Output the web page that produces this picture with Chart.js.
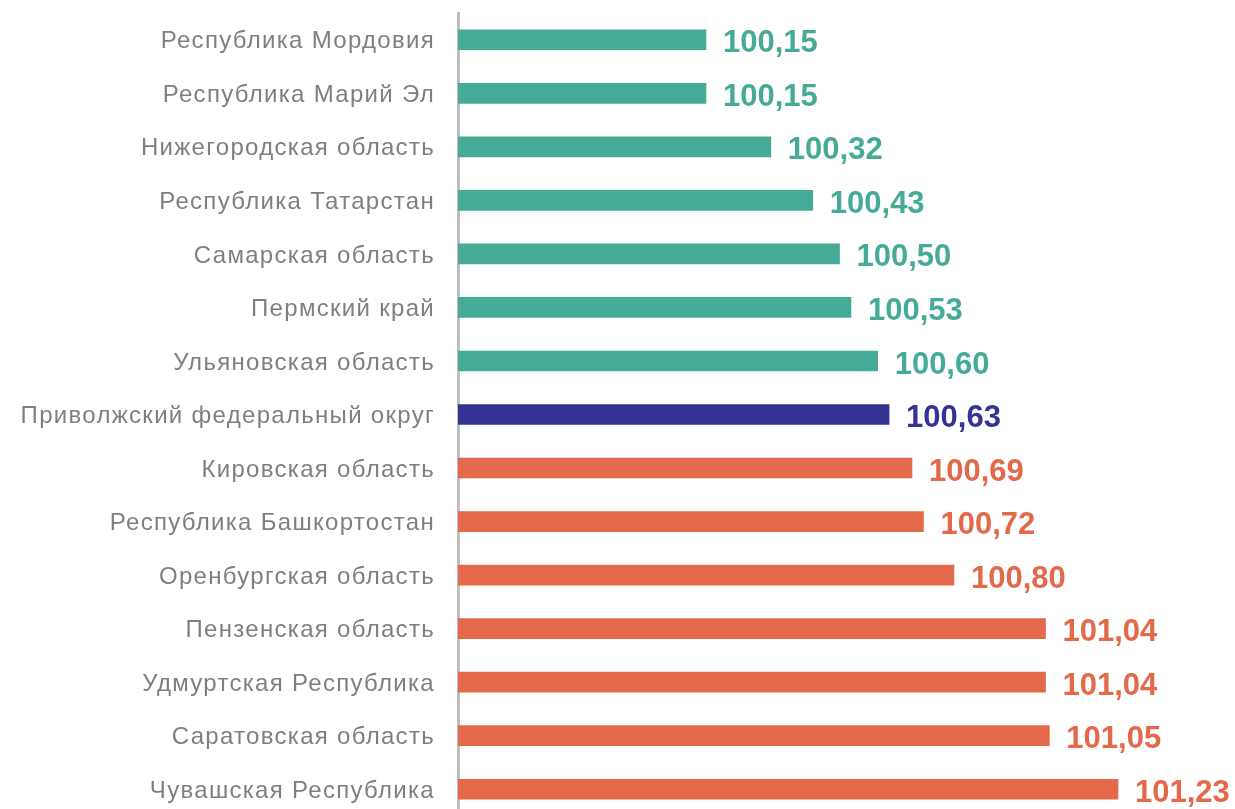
<!DOCTYPE html>
<html>
<head>
<meta charset="utf-8">
<script src="https://cdn.jsdelivr.net/npm/chart.js@4"></script>
<style>
html, body { margin: 0; padding: 0; background: #fff; overflow: hidden; }
</style>
</head>
<body>
<canvas id="chart" width="1235" height="816"></canvas>
<script>
var regions = [
    "Республика Мордовия",
    "Республика Марий Эл",
    "Нижегородская область",
    "Республика Татарстан",
    "Самарская область",
    "Пермский край",
    "Ульяновская область",
    "Приволжский федеральный округ",
    "Кировская область",
    "Республика Башкортостан",
    "Оренбургская область",
    "Пензенская область",
    "Удмуртская Республика",
    "Саратовская область",
    "Чувашская Республика"
];
var values = [100.15, 100.15, 100.32, 100.43, 100.50, 100.53, 100.60, 100.63,
              100.69, 100.72, 100.80, 101.04, 101.04, 101.05, 101.23];
var district = "Приволжский федеральный округ";

var districtValue = values[regions.indexOf(district)];
var fontFamily = "Arial, 'Liberation Sans', sans-serif";

function barColor(i){
    if (regions[i] == district) return "#353494";
    if (values[i] < districtValue) return "#45AB97";
    return "#E4684A";
}
var colors = values.map(function(v, i){ return barColor(i); });

// разрядка для подписей регионов, как в исходнике
var spacing = {
    id: "spacing",
    beforeDraw: function(chart){ chart.ctx.letterSpacing = "1.3px"; }
};

// подписи значений справа от столбцов
var valueLabels = {
    id: "valueLabels",
    afterDatasetsDraw: function(chart){
        var ctx = chart.ctx;
        var meta = chart.getDatasetMeta(0);
        ctx.save();
        ctx.letterSpacing = "0px";
        ctx.font = "bold 31px " + fontFamily;
        ctx.textBaseline = "middle";
        ctx.textAlign = "left";
        meta.data.forEach(function(bar, i){
            ctx.fillStyle = colors[i];
            ctx.fillText(values[i].toFixed(2).replace(".", ","), bar.x + 17, bar.y + 4);
        });
        ctx.restore();
    }
};

new Chart(document.getElementById("chart"), {
    type: "bar",
    data: {
        labels: regions,
        datasets: [{
            data: values,
            backgroundColor: colors,
            barThickness: 20,
            base: 99.5
        }]
    },
    options: {
        indexAxis: "y",
        responsive: false,
        animation: false,
        layout: { padding: { top: 13, right: 14, bottom: 0, left: 0 } },
        plugins: { legend: { display: false }, tooltip: { enabled: false } },
        scales: {
            x: {
                display: false,
                min: 99.5,
                max: 101.5
            },
            y: {
                afterFit: function(scale){
                    scale.width = 458;
                    scale.paddingTop = 0;
                    scale.paddingBottom = 0;
                },
                grid: { display: false },
                border: { display: true, color: "#BFBFBF", width: 3 },
                ticks: {
                    color: "#7F7F7F",
                    padding: 15,
                    labelOffset: 2,
                    font: { family: fontFamily, size: 24 }
                }
            }
        }
    },
    plugins: [spacing, valueLabels]
});
</script>
</body>
</html>
